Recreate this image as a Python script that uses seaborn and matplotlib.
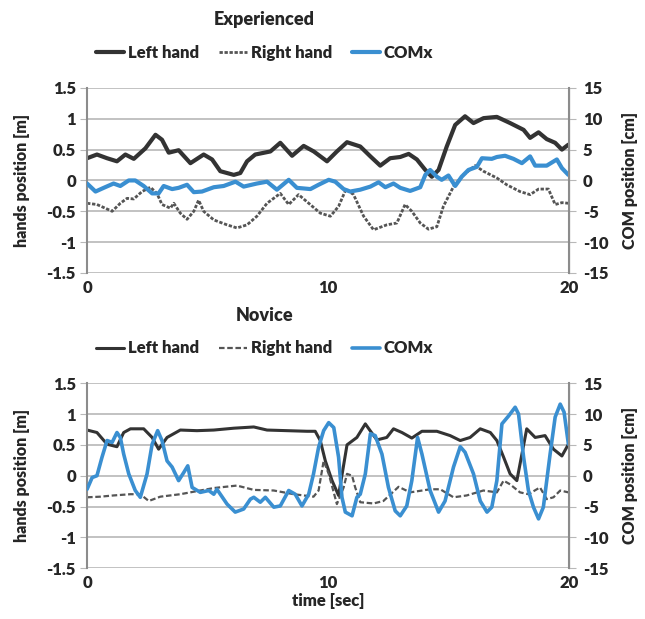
import matplotlib
matplotlib.use("Agg")
import matplotlib.pyplot as plt
import seaborn as sns
from matplotlib.lines import Line2D

# ---------------- data ----------------
exp_left_t = [0, 0.41, 0.83, 1.24, 1.59, 1.94, 2.42, 2.84, 3.11, 3.39, 3.80, 4.29, 4.84, 5.19, 5.53, 6.09,
              6.36, 6.64, 6.98, 7.61, 8.02, 8.51, 8.99, 9.41, 9.96, 10.37, 10.79, 11.34, 11.76, 12.17, 12.58,
              13.0, 13.35, 13.69, 14.04, 14.31, 14.59, 14.93, 15.28, 15.69, 16.04, 16.46, 17.01, 17.56, 18.12,
              18.39, 18.74, 19.08, 19.43, 19.71, 19.98]
exp_left_v = [0.36, 0.42, 0.36, 0.31, 0.42, 0.35, 0.52, 0.74, 0.66, 0.45, 0.49, 0.28, 0.42, 0.34, 0.15, 0.09,
              0.12, 0.31, 0.42, 0.47, 0.61, 0.40, 0.56, 0.47, 0.31, 0.47, 0.62, 0.55, 0.39, 0.24, 0.36,
              0.38, 0.43, 0.34, 0.17, 0.06, 0.17, 0.55, 0.90, 1.04, 0.93, 1.01, 1.03, 0.93, 0.82,
              0.69, 0.78, 0.67, 0.61, 0.50, 0.58]

exp_right_t = [0, 0.41, 1.04, 1.38, 1.66, 1.94, 2.28, 2.63, 2.90, 3.11, 3.46, 3.60, 3.87, 4.15, 4.43, 4.63,
               4.84, 5.26, 5.81, 6.22, 6.64, 7.05, 7.47, 8.02, 8.37, 8.78, 9.20, 9.68, 10.10, 10.44, 10.75,
               11.06, 11.48, 11.89, 12.44, 12.86, 13.20, 13.48, 13.83, 14.17, 14.52, 14.79, 15.21, 15.62,
               16.11, 16.45, 17.01, 17.42, 17.97, 18.39, 18.74, 19.15, 19.43, 19.71, 19.98]
exp_right_v = [-0.37, -0.39, -0.50, -0.37, -0.29, -0.30, -0.18, -0.11, -0.21, -0.39, -0.45, -0.37, -0.53,
               -0.63, -0.50, -0.32, -0.50, -0.64, -0.72, -0.77, -0.72, -0.58, -0.37, -0.21, -0.39, -0.23,
               -0.37, -0.53, -0.58, -0.42, -0.14, -0.23, -0.58, -0.80, -0.72, -0.69, -0.39, -0.50, -0.69,
               -0.79, -0.75, -0.42, -0.10, 0.09, 0.24, 0.15, 0.04, -0.07, -0.18, -0.23, -0.14, -0.14,
               -0.39, -0.36, -0.37]

exp_com_t = [0, 0.35, 0.69, 1.10, 1.38, 1.73, 2.00, 2.35, 2.70, 2.97, 3.18, 3.53, 3.80, 4.15, 4.43, 4.77,
             5.26, 5.67, 6.16, 6.50, 7.05, 7.47, 7.88, 8.37, 8.71, 9.27, 9.61, 10.03, 10.30, 10.65, 10.92,
             11.34, 11.76, 12.10, 12.38, 12.72, 13.00, 13.41, 13.83, 14.04, 14.24, 14.52, 14.72, 15.00,
             15.28, 15.55, 15.83, 16.18, 16.39, 16.80, 17.01, 17.35, 17.70, 18.05, 18.39, 18.60, 19.08,
             19.50, 19.71, 19.98]
exp_com_v = [-0.5, -1.8, -1.2, -0.5, -0.9, 0.0, 0.0, -0.9, -2.1, -2.1, -0.9, -1.4, -1.2, -0.7, -1.9, -1.8,
             -1.1, -0.9, -0.2, -1.0, -0.5, -0.2, -1.5, 0.1, -1.2, -1.4, -0.7, 0.1, -0.2, -1.4, -1.8,
             -1.5, -1.0, -0.3, -1.1, -0.5, -1.2, -1.7, -1.1, 0.9, 1.7, 0.6, 0.1, 0.8,
             -0.9, 0.6, 1.7, 2.2, 3.6, 3.5, 3.8, 4.0, 3.5, 2.8, 3.9, 2.4, 2.4,
             3.4, 2.0, 0.9]

nov_left_t = [0, 0.41, 0.83, 1.24, 1.52, 1.80, 2.35, 2.70, 2.97, 3.32, 3.87, 4.56, 5.26, 6.09, 6.92, 7.47,
              8.30, 9.13, 9.47, 9.68, 9.89, 10.17, 10.44, 10.79, 11.20, 11.55, 11.75, 12.03, 12.44, 12.72,
              13.07, 13.48, 13.90, 14.52, 15.07, 15.49, 15.90, 16.32, 16.74, 17.01, 17.29, 17.56, 17.84,
              18.05, 18.25, 18.60, 19.01, 19.36, 19.71, 19.98]
nov_left_v = [0.74, 0.70, 0.51, 0.47, 0.70, 0.76, 0.76, 0.62, 0.43, 0.62, 0.74, 0.73, 0.74, 0.77, 0.79, 0.74,
              0.73, 0.72, 0.72, 0.57, 0.24, -0.08, -0.32, 0.50, 0.62, 0.84, 0.73, 0.58, 0.62, 0.76,
              0.70, 0.61, 0.72, 0.72, 0.65, 0.57, 0.62, 0.76, 0.70, 0.57, 0.30, 0.03, -0.08,
              0.35, 0.76, 0.62, 0.65, 0.43, 0.32, 0.51]

nov_right_t = [0, 0.55, 1.10, 1.80, 2.21, 2.56, 3.04, 3.87, 4.56, 5.26, 6.22, 6.92, 7.75, 8.58, 9.40, 9.61,
               9.82, 10.03, 10.37, 10.65, 10.79, 11.00, 11.13, 11.34, 11.89, 12.30, 12.93, 13.41, 14.24,
               14.66, 15.21, 15.76, 16.45, 17.01, 17.29, 17.56, 17.97, 18.32, 18.80, 19.08, 19.36, 19.64,
               19.98]
nov_right_v = [-0.35, -0.34, -0.32, -0.30, -0.30, -0.41, -0.34, -0.30, -0.25, -0.20, -0.16, -0.23, -0.24,
               -0.30, -0.34, -0.24, 0.24, 0.03, -0.46, -0.19, 0.03, 0.00, -0.19, -0.43, -0.45, -0.41,
               -0.18, -0.27, -0.22, -0.22, -0.35, -0.32, -0.24, -0.27, -0.08, -0.14, -0.27, -0.30, -0.19,
               -0.38, -0.35, -0.24, -0.27]

nov_com_t = [0, 0.21, 0.41, 0.62, 0.83, 1.04, 1.24, 1.38, 1.52, 1.73, 2.00, 2.21, 2.49, 2.70, 2.93, 3.11,
             3.32, 3.53, 3.80, 4.01, 4.18, 4.36, 4.70, 5.05, 5.26, 5.39, 5.81, 6.15, 6.50, 6.78, 6.92,
             7.19, 7.40, 7.75, 8.02, 8.37, 8.64, 8.92, 9.20, 9.40, 9.61, 9.82, 10.03, 10.24, 10.44, 10.58,
             10.72, 11.00, 11.20, 11.34, 11.55, 11.76, 11.96, 12.24, 12.51, 12.79, 13.00, 13.27, 13.48,
             13.72, 13.90, 14.24, 14.59, 14.86, 15.21, 15.49, 15.69, 16.04, 16.32, 16.60, 16.80, 17.01,
             17.22, 17.50, 17.77, 17.91, 18.12, 18.32, 18.53, 18.74, 18.94, 19.22, 19.43, 19.64, 19.80,
             19.98]
nov_com_v = [-2.2, -0.3, 0.0, 3.0, 5.7, 5.4, 7.0, 6.2, 3.5, 0.3, -2.4, -3.5, 0.3, 5.1, 7.3, 5.7,
             2.4, 1.4, -0.8, 0.5, 1.6, -1.9, -2.7, -2.4, -3.0, -2.2, -4.6, -5.9, -5.4, -3.8, -3.5,
             -4.3, -3.5, -5.1, -4.9, -2.4, -3.0, -4.9, -3.0, 0.3, 4.6, 7.3, 8.6, 7.8, 3.0, -3.5,
             -5.9, -6.5, -3.5, -3.0, 0.3, 6.8, 6.5, 3.5, -1.9, -5.7, -6.5, -4.9, -0.8,
             6.2, 3.5, -2.4, -5.9, -4.1, 1.4, 4.7, 3.8, 0.3, -4.1, -5.9, -5.1, -0.8,
             8.4, 9.7, 11.1, 10.0, 3.0, -2.4, -5.1, -7.0, -5.1, 3.5, 9.5, 11.6, 10.3,
             5.1]

titles = ["Experienced", "Novice"]
series_names = ["Left hand", "Right hand", "COMx"]
left_ticks = [-1.5, -1, -0.5, 0, 0.5, 1, 1.5]
left_ticklabels = ["-1.5", "-1", "-0.5", "0", "0.5", "1", "1.5"]
right_ticks = [-15, -10, -5, 0, 5, 10, 15]
right_ticklabels = ["-15", "-10", "-5", "0", "5", "10", "15"]
x_ticks = [0, 10, 20]

# ---------------- style ----------------
sns.set_style("white")
plt.rcParams['font.family'] = ['Lato', 'DejaVu Sans']
W = 'heavy'
plt.rcParams['font.weight'] = W

DARK = "#333333"
GREY = "#555555"
BLUE = "#3a8fd1"
GRID = "#b8b8b8"
SPINE = "#8c8c8c"
FS_TICK = 12
FS_LAB = 11.5

fig = plt.figure(figsize=(6.45, 6.19), dpi=100)

panels = [
    dict(rect=[0.135, 0.559, 0.747, 0.299], left=(exp_left_t, exp_left_v), right=(exp_right_t, exp_right_v),
         com=(exp_com_t, exp_com_v), lw=(3.0, 2.0, 3.0), ls_right=(0, (1.2, 0.6)),
         title_y=0.968, leg_y=0.915, xlabel=None),
    dict(rect=[0.135, 0.082, 0.747, 0.299], left=(nov_left_t, nov_left_v), right=(nov_right_t, nov_right_v),
         com=(nov_com_t, nov_com_v), lw=(2.2, 1.6, 2.6), ls_right=(0, (2.5, 1.2)),
         title_y=0.49, leg_y=0.437, xlabel="time [sec]"),
]

for title, p in zip(titles, panels):
    ax = fig.add_axes(p["rect"])
    sns.lineplot(x=p["left"][0], y=p["left"][1], ax=ax, color=DARK, lw=p["lw"][0],
                 sort=False, estimator=None)
    sns.lineplot(x=p["right"][0], y=p["right"][1], ax=ax, color=GREY, lw=p["lw"][1],
                 linestyle=p["ls_right"], sort=False, estimator=None)
    ax.set_xlim(0, 20)
    ax.set_ylim(-1.5, 1.5)
    ax.set_xticks(x_ticks)
    ax.set_xticklabels([str(t) for t in x_ticks], fontsize=FS_TICK, fontweight=W)
    ax.set_yticks(left_ticks)
    ax.set_yticklabels(left_ticklabels, fontsize=FS_TICK, fontweight=W)
    ax.yaxis.grid(True, color=GRID, lw=1.2)
    ax.set_axisbelow(True)
    ax.set_ylabel("hands position [m]", fontsize=FS_LAB, fontweight=W, labelpad=12)
    if p["xlabel"]:
        ax.set_xlabel(p["xlabel"], fontsize=12, fontweight=W, labelpad=1)
    for s in ["top", "bottom"]:
        ax.spines[s].set_visible(False)
    ax.spines["left"].set_color(SPINE)
    ax.spines["left"].set_linewidth(1.5)
    ax.tick_params(axis='y', length=5, color=GRID, pad=3)
    ax.tick_params(axis='x', length=6, color=SPINE, direction='inout', pad=2)

    ax2 = ax.twinx()
    sns.lineplot(x=p["com"][0], y=p["com"][1], ax=ax2, color=BLUE, lw=p["lw"][2],
                 sort=False, estimator=None)
    ax2.set_ylim(-15, 15)
    ax2.set_yticks(right_ticks)
    ax2.set_yticklabels(right_ticklabels, fontsize=FS_TICK, fontweight=W)
    ax2.set_ylabel("COM position [cm]", fontsize=FS_LAB, fontweight=W, rotation=90, labelpad=10)
    for s in ["top", "bottom", "left"]:
        ax2.spines[s].set_visible(False)
    ax2.spines["right"].set_color(SPINE)
    ax2.spines["right"].set_linewidth(1.5)
    ax2.tick_params(axis='y', length=5, color=GRID, pad=5)

    fig.text(0.41, p["title_y"], title, ha='center', va='center', fontsize=13, fontweight=W)
    handles = [Line2D([], [], color=DARK, lw=p["lw"][0]),
               Line2D([], [], color=GREY, lw=p["lw"][1], linestyle=p["ls_right"]),
               Line2D([], [], color=BLUE, lw=p["lw"][2])]
    fig.legend(handles, series_names, loc='center', bbox_to_anchor=(0.41, p["leg_y"]), ncol=3,
               frameon=False, prop={'size': 12, 'weight': W}, handlelength=1.7,
               handletextpad=0.2, columnspacing=1.2)

fig.savefig("out.png", dpi=100)
